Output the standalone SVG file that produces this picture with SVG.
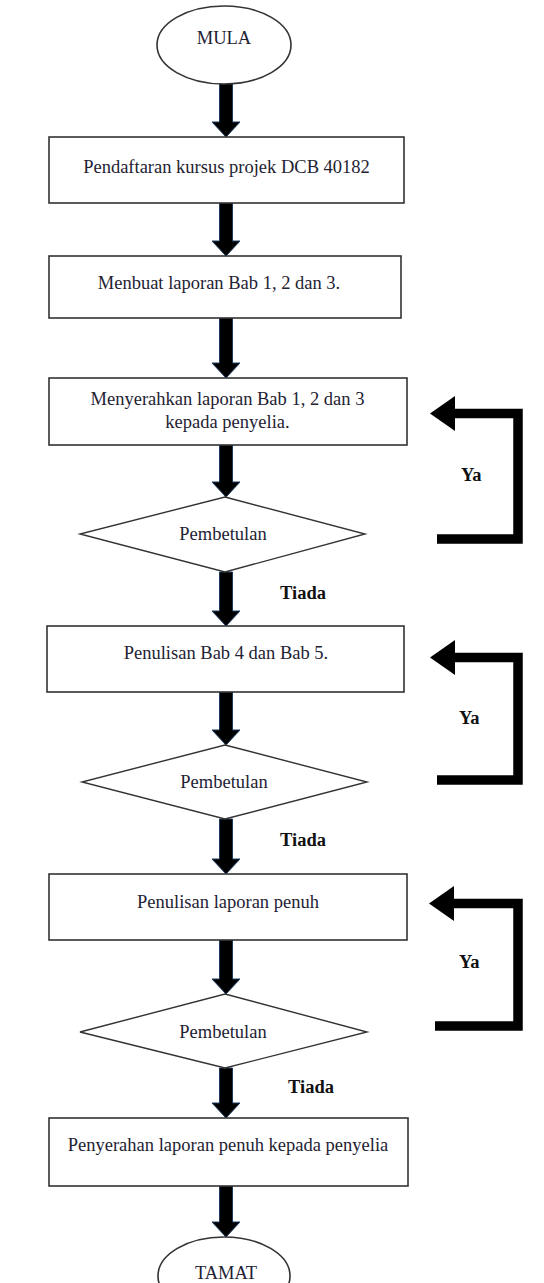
<svg xmlns="http://www.w3.org/2000/svg" width="544" height="1283" viewBox="0 0 544 1283">
<style>
.box{fill:#fff;stroke:#333;stroke-width:1.6}
.term{fill:#fff;stroke:#333;stroke-width:1.6}
.dia{fill:#fff;stroke:#333;stroke-width:1.4}
.t{font-family:"Liberation Serif","Times New Roman",serif;font-size:18.5px;fill:#1e2233;text-anchor:middle}
.lbl{font-family:"Liberation Serif","Times New Roman",serif;font-size:18.5px;font-weight:bold;fill:#111}
.arr{fill:#000;stroke:#1f3a60;stroke-width:1}
.fb{fill:none;stroke:#000;stroke-width:9.5;stroke-linejoin:miter}
.fbh{fill:#000}
</style>
<rect width="544" height="1283" fill="#fff"/>
<g id="connectors">
<path class="arr" d="M219.5,83 H232.5 V122 H240 L226,137 L212,122 H219.5 Z"/>
<path class="arr" d="M219.5,203 H232.5 V241 H240 L226,256 L212,241 H219.5 Z"/>
<path class="arr" d="M219.5,318 H232.5 V363 H240 L226,378 L212,363 H219.5 Z"/>
<path class="arr" d="M219.5,445 H232.5 V482 H240 L226,497 L212,482 H219.5 Z"/>
<path class="arr" d="M219.5,572 H232.5 V611 H240 L226,626 L212,611 H219.5 Z"/>
<path class="arr" d="M219.5,692 H232.5 V730 H240 L226,745 L212,730 H219.5 Z"/>
<path class="arr" d="M219.5,819 H232.5 V859 H240 L226,874 L212,859 H219.5 Z"/>
<path class="arr" d="M219.5,940 H232.5 V979 H240 L226,994 L212,979 H219.5 Z"/>
<path class="arr" d="M219.5,1068 H232.5 V1103 H240 L226,1118 L212,1103 H219.5 Z"/>
<path class="arr" d="M219.5,1186 H232.5 V1222 H240 L226,1237 L212,1222 H219.5 Z"/>
<polyline class="fb" points="437,539 518,539 518,413.5 453,413.5"/>
<polygon class="fbh" points="430,413.5 455,396 455,431"/>
<polyline class="fb" points="437,780 518,780 518,657.5 453,657.5"/>
<polygon class="fbh" points="430,657.5 455,640 455,675"/>
<polyline class="fb" points="435,1026 518,1026 518,903.5 453,903.5"/>
<polygon class="fbh" points="429,903.5 454,886 454,921"/>
<text class="lbl" x="461" y="481">Ya</text>
<text class="lbl" x="459" y="724">Ya</text>
<text class="lbl" x="459" y="968">Ya</text>
<text class="lbl" x="280" y="599">Tiada</text>
<text class="lbl" x="280" y="846">Tiada</text>
<text class="lbl" x="288" y="1093">Tiada</text>
</g>
<g id="mula">
<ellipse class="term" cx="224" cy="45" rx="67" ry="39"/>
<text class="t" x="224" y="44">MULA</text>
</g>
<g id="box1">
<rect class="box" x="49" y="137" width="355" height="66"/>
<text class="t" x="226.5" y="173">Pendaftaran kursus projek DCB 40182</text>
</g>
<g id="box2">
<rect class="box" x="49" y="256" width="352" height="62"/>
<text class="t" x="219" y="289">Menbuat laporan Bab 1, 2 dan 3.</text>
</g>
<g id="box3">
<rect class="box" x="49" y="378" width="358" height="67"/>
<text class="t" x="227.5" y="405">Menyerahkan laporan Bab 1, 2 dan 3</text>
<text class="t" x="227.5" y="428">kepada penyelia.</text>
</g>
<g id="dec1">
<polygon class="dia" points="225,497 365,534 225,572 80,534"/>
<text class="t" x="223" y="540">Pembetulan</text>
</g>
<g id="box4">
<rect class="box" x="47" y="626" width="357" height="66"/>
<text class="t" x="226" y="659">Penulisan Bab 4 dan Bab 5.</text>
</g>
<g id="dec2">
<polygon class="dia" points="225,745 367,782 225,819 82,782"/>
<text class="t" x="224" y="788">Pembetulan</text>
</g>
<g id="box5">
<rect class="box" x="49" y="874" width="358" height="66"/>
<text class="t" x="228" y="908">Penulisan laporan penuh</text>
</g>
<g id="dec3">
<polygon class="dia" points="225,994 367,1032 225,1068 80,1032"/>
<text class="t" x="223" y="1038">Pembetulan</text>
</g>
<g id="box6">
<rect class="box" x="49" y="1118" width="359" height="68"/>
<text class="t" x="228" y="1151">Penyerahan laporan penuh kepada penyelia</text>
</g>
<g id="tamat">
<ellipse class="term" cx="224" cy="1276" rx="66" ry="39"/>
<text class="t" x="226" y="1279">TAMAT</text>
</g>
</svg>
